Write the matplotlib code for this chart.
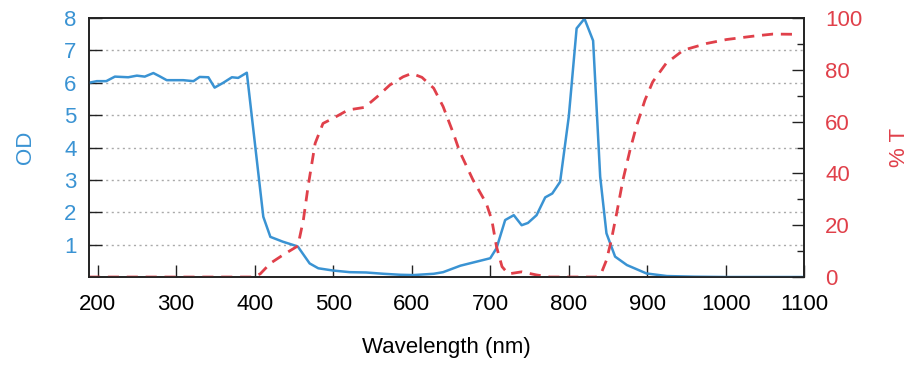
import matplotlib
matplotlib.use("Agg")
import matplotlib.pyplot as plt
from matplotlib.ticker import MultipleLocator

plt.rcParams['font.family'] = ['Liberation Sans', 'DejaVu Sans']

# OD curve (left axis)
od_wl = [189, 199, 211, 222, 239, 250, 260, 271, 279, 288, 309, 322, 330, 341,
         349, 360, 371, 379, 390, 411, 420, 436, 449, 455, 470, 481, 500, 521,
         542, 564, 585, 602, 628, 640, 662, 700, 708, 719, 730, 740, 748, 759,
         770, 779, 789, 800, 810, 820, 831, 840, 848, 859, 874, 899, 925, 960,
         1000, 1100]
od_val = [6.0, 6.05, 6.05, 6.19, 6.17, 6.22, 6.19, 6.3, 6.2, 6.08, 6.08, 6.05,
          6.18, 6.17, 5.85, 6.0, 6.17, 6.15, 6.31, 1.86, 1.24, 1.09, 0.99, 0.94,
          0.42, 0.27, 0.2, 0.15, 0.14, 0.1, 0.07, 0.06, 0.1, 0.15, 0.35, 0.58,
          0.89, 1.76, 1.91, 1.6, 1.67, 1.91, 2.46, 2.58, 2.94, 4.95, 7.68, 7.98,
          7.3, 3.1, 1.35, 0.63, 0.37, 0.11, 0.03, 0.01, 0.0, 0.0]

# transmission curve (right axis)
t_wl = [189, 398, 407, 420, 436, 455, 462, 468, 477, 487, 500, 519, 540, 556,
        572, 589, 600, 613, 628, 640, 653, 661, 678, 695, 702, 708, 715, 723,
        740, 759, 776, 835, 841, 848, 854, 861, 869, 878, 886, 897, 907, 924,
        946, 976, 1001, 1035, 1060, 1092]
t_val = [0, 0, 1.2, 5.3, 8.5, 12, 22, 34.9, 51.6, 59.3, 61.3, 64.5, 65.5, 69.6,
         74.1, 77.3, 78.6, 77.1, 72.9, 65.8, 55.5, 48.5, 37.5, 28.4, 22, 11.7,
         4, 1.2, 2, 0.8, 0, 0, 1.2, 6.5, 14, 24.6, 37.5, 49, 58, 68.3, 75.4,
         82.5, 87.6, 90.2, 91.7, 93, 93.8, 93.7]

x_ticks = [200, 300, 400, 500, 600, 700, 800, 900, 1000, 1100]

blue = '#3a93d3'
red = '#e0404a'
fs = 16

fig, ax = plt.subplots(figsize=(9.24, 3.8), dpi=100)
fig.subplots_adjust(left=0.0963, right=0.8705, top=0.9526, bottom=0.271)

ax.set_xlim(189, 1100)
ax.set_ylim(0, 8)
ax.set_xticks(x_ticks)
ax.set_yticks(range(1, 9))
for y in range(1, 8):
    ax.axhline(y, color='#aaaaaa', lw=1, ls=(0, (1.5, 2.5)), zorder=0)

ax.plot(od_wl, od_val, color=blue, lw=1.8, zorder=3)

ax.tick_params(axis='x', direction='in', length=9, width=1, labelsize=fs,
               pad=12, colors='#222222', labelcolor='black')
ax.tick_params(axis='y', direction='in', length=9, width=1, labelsize=fs,
               pad=9, colors='#222222', labelcolor=blue)
ax.set_ylabel('OD', color=blue, fontsize=fs, labelpad=20)
ax.set_xlabel('Wavelength (nm)', fontsize=fs, labelpad=16)

ax2 = ax.twinx()
ax2.set_ylim(0, 100)
ax2.yaxis.set_major_locator(MultipleLocator(20))
ax2.yaxis.set_minor_locator(MultipleLocator(10))
ax2.plot(t_wl, t_val, color=red, lw=2, ls=(0, (4, 2.8)), zorder=2)
ax2.tick_params(axis='y', which='major', direction='in', length=9, width=1,
                labelsize=fs, pad=15, colors='#222222', labelcolor=red)
ax2.tick_params(axis='y', which='minor', direction='in', length=5, width=1,
                colors='#222222')
ax2.set_ylabel('% T', color=red, fontsize=fs, labelpad=19)

for a in (ax, ax2):
    for s in a.spines.values():
        s.set_color('#222222')
        s.set_linewidth(1.2)

fig.savefig('out.png', dpi=100)
